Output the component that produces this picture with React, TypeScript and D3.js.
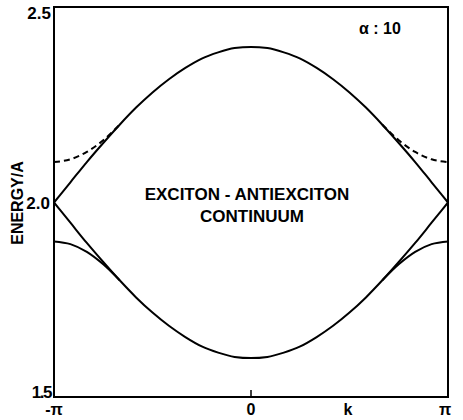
import React from "react";
import * as d3 from "d3";

// Wave vector k sampled in units of π/12 from -π to π
const kSteps = [-12, -11, -10, -9, -8, -7, -6, -5, -4, -3, -2, -1, 0, 1, 2, 3, 4, 5, 6, 7, 8, 9, 10, 11, 12];

// Upper and lower edges of the exciton-antiexciton continuum (energy / A)
const upperEdge = [2.0, 2.052, 2.104, 2.153, 2.2, 2.244, 2.283, 2.317, 2.346, 2.37, 2.386, 2.397, 2.4,
  2.397, 2.386, 2.37, 2.346, 2.317, 2.283, 2.244, 2.2, 2.153, 2.104, 2.052, 2.0];
const lowerEdge = [2.0, 1.948, 1.896, 1.847, 1.8, 1.756, 1.717, 1.683, 1.654, 1.63, 1.614, 1.603, 1.6,
  1.603, 1.614, 1.63, 1.654, 1.683, 1.717, 1.756, 1.8, 1.847, 1.896, 1.948, 2.0];

// Bound states split off the continuum near the zone boundary
const boundSteps = [8, 9, 10, 11, 12];
const upperBound = [2.2, 2.16, 2.13, 2.111, 2.104];   // dashed
const lowerBound = [1.8, 1.841, 1.873, 1.893, 1.9];   // solid

const yTicks = ["1.5", "2.0", "2.5"];
const xTickLabels = ["-π", "0", "k", "π"];

const W = 463;
const H = 420;
const FONT = "'Liberation Sans', Arial, Helvetica, sans-serif";

export default function App() {
  const left = 54;
  const right = 448;
  const top = 7;
  const bottom = 397;

  const x = d3.scaleLinear().domain([-Math.PI, Math.PI]).range([left, right]);
  const y = d3.scaleLinear().domain([1.5, 2.5]).range([bottom, top + 1]);

  const kOf = (s: number) => (s * Math.PI) / 12;

  const line = d3
    .line<[number, number]>()
    .x((d) => x(d[0]))
    .y((d) => y(d[1]))
    .curve(d3.curveMonotoneX);

  const upperPts: [number, number][] = kSteps.map((s, i) => [kOf(s), upperEdge[i]]);
  const lowerPts: [number, number][] = kSteps.map((s, i) => [kOf(s), lowerEdge[i]]);

  const boundRight = (vals: number[]): [number, number][] => boundSteps.map((s, i) => [kOf(s), vals[i]]);
  const boundLeft = (vals: number[]): [number, number][] =>
    boundSteps.map((s, i) => [kOf(-s), vals[i]] as [number, number]).reverse();

  const textStyle: React.CSSProperties = { fontFamily: FONT, fontWeight: 700 };

  return (
    <svg width={W} height={H} style={{ position: "absolute", left: 0, top: 0, background: "#fff" }}>
      <g fill="none" stroke="#000" strokeWidth={2} strokeLinejoin="round">
        <path d={line(upperPts) || ""} />
        <path d={line(lowerPts) || ""} />
        <path d={line(boundRight(lowerBound)) || ""} />
        <path d={line(boundLeft(lowerBound)) || ""} />
        <path d={line(boundRight(upperBound)) || ""} strokeDasharray="6,4" />
        <path d={line(boundLeft(upperBound)) || ""} strokeDasharray="6,4" />
      </g>

      {/* frame */}
      <rect x={left} y={top} width={right - left} height={bottom - top} fill="none" stroke="#000" strokeWidth={2} />
      <line x1={x(0)} x2={x(0)} y1={bottom} y2={bottom - 7} stroke="#000" strokeWidth={1.5} />

      {/* y tick labels */}
      <g style={textStyle} fontSize={17} textAnchor="end" fill="#000">
        <text x={51} y={y(1.5) + 1} letterSpacing={-1.5}>{yTicks[0]}</text>
        <text x={50} y={y(2.0) + 6}>{yTicks[1]}</text>
        <text x={51} y={19}>{yTicks[2]}</text>
      </g>

      <text
        style={textStyle}
        fontSize={16}
        textAnchor="middle"
        transform={`translate(23, 203) rotate(-90)`}
      >
        ENERGY/A
      </text>

      {/* x tick labels */}
      <g style={textStyle} fontSize={16} textAnchor="middle" fill="#000">
        <text x={54} y={415}>{xTickLabels[0]}</text>
        <text x={x(0)} y={415}>{xTickLabels[1]}</text>
        <text x={348} y={415}>{xTickLabels[2]}</text>
        <text x={445} y={415}>{xTickLabels[3]}</text>
      </g>

      <text style={textStyle} fontSize={16} x={380} y={34} textAnchor="middle">α : 10</text>

      <g style={textStyle} fontSize={17} textAnchor="middle">
        <text x={247} y={200}>EXCITON - ANTIEXCITON</text>
        <text x={252} y={222}>CONTINUUM</text>
      </g>
    </svg>
  );
}
